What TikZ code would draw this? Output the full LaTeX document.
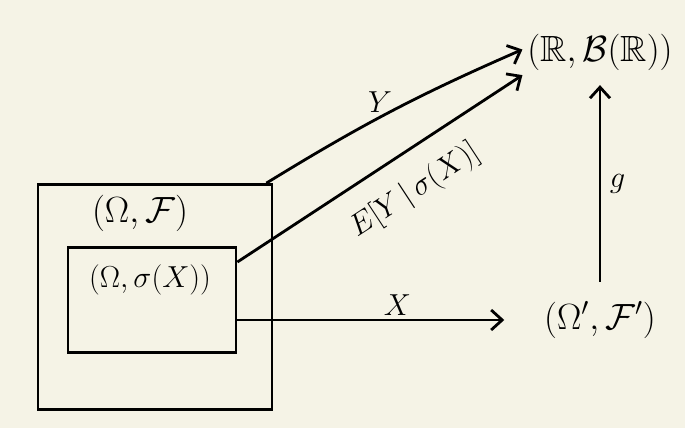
\documentclass[tikz,border=0pt]{standalone}
\usepackage{amssymb}
\usetikzlibrary{arrows.meta}
\definecolor{paper}{RGB}{245,243,230}
\begin{document}
\begin{tikzpicture}[>={Straight Barb[length=2.2mm,width=4mm]},line width=1.6pt]
        \tikzstyle{space}=[rectangle,draw=black,line width=1.6pt,inner sep=0pt]
        \tikzstyle{label}=[font=\LARGE,inner sep=2pt]
        \tikzstyle{map}=[draw,->,line width=1.6pt]
        \fill[paper] (0,0) rectangle (13.7,8.56);
        \useasboundingbox (0,0) rectangle (13.7,8.56);
       \begin{scope}
         \node [space,minimum width=4.68cm,minimum height=4.5cm] (omF) at (3.10,2.62) {};
         \node [space,minimum width=3.36cm,minimum height=2.1cm] (omX) at (3.04,2.56) {};
         \node [label,font=\huge] (omFtext) at (2.8,4.3) {$(\Omega,\mathcal{F})$};
         \node [label] (omXtext) at (3.0,2.96) {$(\Omega,\sigma(X))$};
         \node [label,font=\huge] (reals) at (12.0,7.52) {$(\mathbb{R},\mathcal{B}(\mathbb{R}))$};
         \node [label,font=\huge] (omP) at (12.0,2.16) {$(\Omega',\mathcal{F}')$};
         \draw[map] ([xshift=-0.14cm]omF.north east) to [bend left=4] node[label,above,pos=0.45] {$Y$} ([yshift=0.05cm]reals.west);
         \draw[map] ([yshift=0.76cm]omX.east) -- node[label,below=10pt,sloped,pos=0.55] {$E[Y\,|\,\sigma(X)]$} (reals.south west);
         \draw[map] ([yshift=-0.4cm]omX.east) -- node[label,above,pos=0.6] {$X$} ([xshift=-0.7cm]omP.west);
         \draw[map] ([yshift=0.3cm]omP.north -| reals.south) -- node[label,right,xshift=0.1cm] {$g$} ([yshift=-0.2cm]reals.south);
        \end{scope}
      \end{tikzpicture}
\end{document}
